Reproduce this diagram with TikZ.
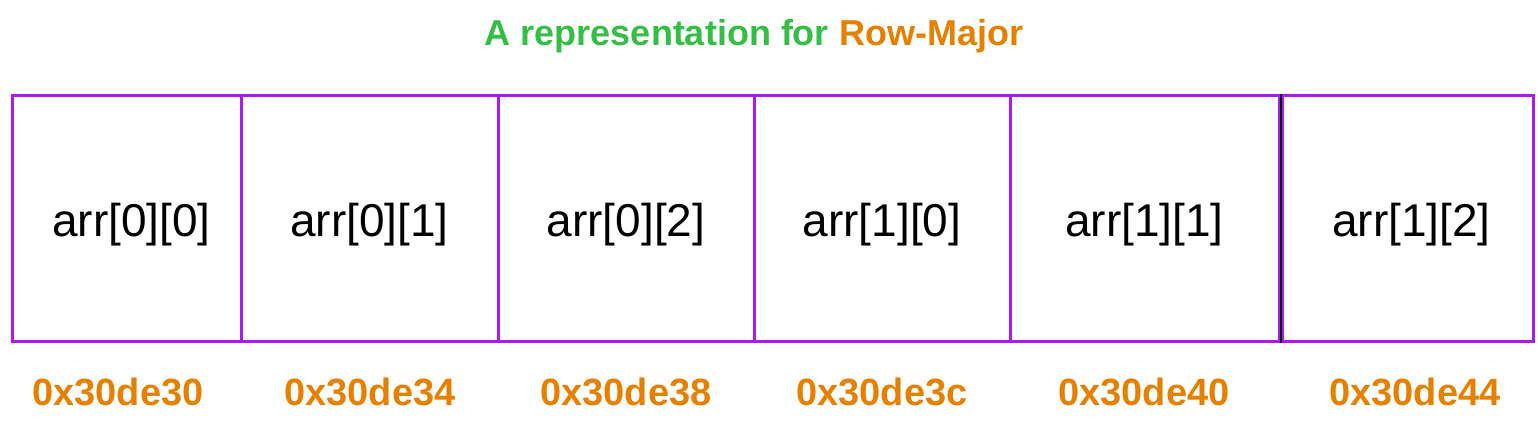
\documentclass[tikz,border=0pt]{standalone}
\usepackage{fontspec}
\setmainfont{Liberation Sans}
\usepackage{tikz}
\definecolor{cellpurple}{RGB}{170,26,240}
\definecolor{addrorange}{RGB}{229,128,0}
\definecolor{titlegreen}{RGB}{52,190,70}
\tikzstyle{cell}=[rectangle, draw=cellpurple, line width=3pt, inner sep=0pt,
                  minimum height=245pt, text height=45pt, text depth=9pt,
                  font=\fontsize{46}{50}\selectfont]
\tikzstyle{addr}=[anchor=base, inner sep=0pt, text=addrorange,
                  font=\fontsize{38}{42}\selectfont\bfseries]

\begin{document}
\begin{tikzpicture}[x=1pt,y=-1pt]
      \useasboundingbox (0,0) rectangle (1538,422);
      \node[anchor=base, inner sep=0pt, font=\fontsize{36}{40}\selectfont\bfseries]
	(title) at (754,46) {\textcolor{titlegreen}{A representation for}
	\textcolor{addrorange}{Row-Major}};
      \node[cell, minimum width=229pt] (c00) at (126.5,218.5) {\hspace{10pt}arr[0][0]};
      \node[cell, minimum width=257pt] (c01) at (369.5,218.5) {arr[0][1]};
      \node[cell, minimum width=256pt] (c02) at (626,218.5) {arr[0][2]};
      \node[cell, minimum width=256pt] (c10) at (882,218.5) {arr[1][0]};
      \node[cell, minimum width=269pt] (c11) at (1144.5,218.5) {arr[1][1]};
      \node[cell, minimum width=251pt] (c12) at (1407.5,218.5) {\hspace{8pt}arr[1][2]};
	\draw[line width=2pt] (c11.north east)--(c11.south east);
      \node[addr] (a00) at (118,405) {0x30de30};
      \node[addr] (a01) at (370,405) {0x30de34};
      \node[addr] (a02) at (626,405) {0x30de38};
      \node[addr] (a10) at (882,405) {0x30de3c};
      \node[addr] (a11) at (1144,405) {0x30de40};
      \node[addr] (a12) at (1415,405) {0x30de44};
    \end{tikzpicture}
\end{document}
